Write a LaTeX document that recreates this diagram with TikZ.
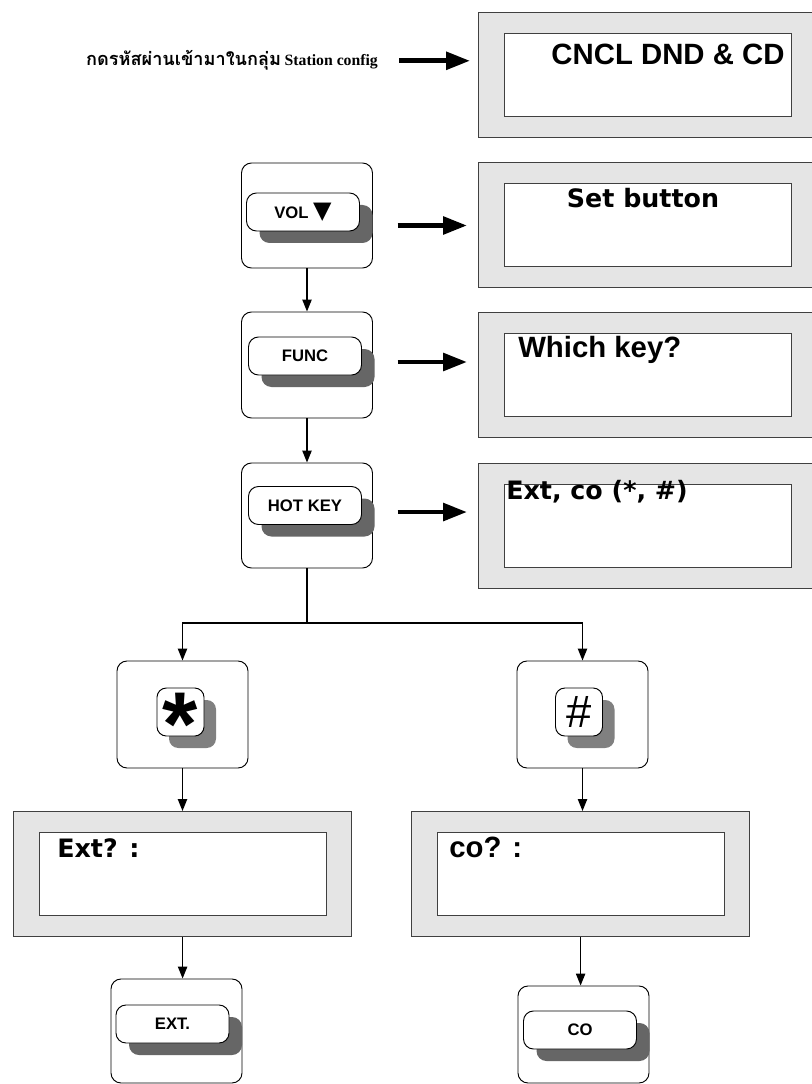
\documentclass[tikz,border=0pt]{standalone}
\usepackage{fontspec}
\setmainfont{Liberation Sans}
\newfontfamily\dejavu{DejaVu Sans}
\newfontfamily\thaifont[Script=Thai]{Loma}
\newfontfamily\timesb{Liberation Serif}
\usepackage{tikz}
\usetikzlibrary{positioning, arrows.meta, calc, shadows}

\begin{document}
\begin{tikzpicture}[x=0.75pt, y=-0.75pt,
  lcdframe/.style={draw=black!75, fill=gray!20, line width=0.9pt, minimum width=253.5pt, minimum height=93.75pt, inner sep=0pt, anchor=north west},
  lcdscreen/.style={draw=black!75, fill=white, line width=0.9pt, minimum width=215.25pt, minimum height=62.25pt, inner sep=0pt, anchor=north west},
  lcdsans/.style={font=\bfseries\fontsize{22}{22}\selectfont, inner sep=0pt},
  lcdwide/.style={font=\dejavu\bfseries\fontsize{19}{19}\selectfont, inner sep=0pt},
  panel/.style={draw=black, fill=white, rounded corners=7.5pt, line width=0.7pt, inner sep=0pt, minimum width=98.25pt},
  keycap/.style={draw=black, fill=white, rounded corners=7.5pt, line width=0.7pt, inner sep=0pt,
    minimum width=84.75pt, minimum height=28.5pt, font=\bfseries\fontsize{12.5}{12.5}\selectfont,
    drop shadow={shadow xshift=9.75pt, shadow yshift=-9pt, fill=black!60, opacity=1}},
  smallkey/.style={draw=black, fill=white, rounded corners=7pt, line width=0.7pt, inner sep=0pt,
    minimum width=35.25pt, minimum height=36pt,
    drop shadow={shadow xshift=9pt, shadow yshift=-9pt, fill=black!50, opacity=1}},
  flowarrow/.style={line width=1pt, -{Triangle[length=9pt, width=7pt]}},
  flowline/.style={line width=1pt},
  bigarrow/.style={line width=3.6pt, -{Triangle[length=18pt, width=13pt]}}
]
\useasboundingbox (0,0) rectangle (811,1084);

% Intro line
\node[inner sep=0pt, anchor=base] (intro) at (232,66)
  {{\thaifont\bfseries\fontsize{13.6}{14}\selectfont กดรหัสผ่านเข้ามาในกลุ่ม} {\timesb\bfseries\fontsize{11.8}{12}\selectfont Station config}};

% LCD displays
\foreach \name/\x/\y in {lcdA/478/12, lcdB/478/162, lcdC/478/312, lcdD/478/463, lcdE/13/811, lcdF/411/811} {
  \node[lcdframe] (\name) at (\x,\y) {};
  \node[lcdscreen] (\name-s) at ($(\name.north west)+(26,21)$) {};
}
\node[lcdsans, anchor=base] (cncl) at (668,65) {CNCL DND \& CD};
\node[lcdwide, anchor=base] (setbtn) at (643,208) {Set button};
\node[lcdsans, anchor=base west] (whichkey) at (518,357) {Which key?};
\node[lcdwide, anchor=base west] (extco) at (506,499) {Ext, co (*, \#)};
\node[lcdwide, anchor=base west] (extq) at (57,857) {Ext? :};
\node[lcdsans, anchor=base west] (coq) at (449,857) {co? :};

% Key panels
\foreach \name/\x/\y/\h in {volp/307/215.5/105, funcp/307/365/106, hotp/307/515.5/105,
  starp/182.5/714.5/107, hashp/582.5/714.5/107, extp/176.5/1031/104, cop/583.5/1034.5/97} {
  \node[panel, minimum height=\h*0.75pt] (\name) at (\x,\y) {};
}

% Keys
\node[keycap] (volk) at (303,212) {VOL {\dejavu\fontsize{18}{18}\selectfont ▼}};
\node[keycap] (funck) at (305,356) {FUNC};
\node[keycap] (hotk) at (305,505.5) {HOT KEY};
\node[keycap] (extk) at (172.5,1024) {EXT.};
\node[keycap] (cok) at (580,1030) {CO};
\node[smallkey] (stark) at (180.5,712)
  {\bfseries\fontsize{68}{68}\selectfont\raisebox{-0.48em}[0pt][0pt]{*}};
\node[smallkey] (hashk) at (579,712) {\fontsize{34}{34}\selectfont \#};

% Big arrows to the displays
\draw[bigarrow, shorten <=15.75pt, shorten >=6pt] (intro.east) -- (intro.east -| lcdA.west);
\draw[bigarrow, shorten <=18.4pt, shorten >=8.25pt] ([yshift=-7.5pt]volp.east) -- ([yshift=-7.5pt]volp.east -| lcdB.west);
\draw[bigarrow, shorten <=18.4pt, shorten >=8.25pt] ([yshift=2.25pt]funcp.east) -- ([yshift=2.25pt]funcp.east -| lcdC.west);
\draw[bigarrow, shorten <=18.4pt, shorten >=8.25pt] ([yshift=2.6pt]hotp.east) -- ([yshift=2.6pt]hotp.east -| lcdD.west);

% Flow
\coordinate (split) at (307,623);
\draw[flowarrow] (volp) -- (funcp);
\draw[flowarrow] (funcp) -- (hotp);
\draw[flowline] (hotp.south) -- (split);
\draw[flowarrow] (split) -| (starp.north);
\draw[flowarrow] (split) -| (hashp.north);
\draw[flowarrow] (starp.south) -- (starp.south |- lcdE.north);
\draw[flowarrow] (hashp.south) -- (hashp.south |- lcdF.north);
\draw[flowarrow] (lcdE.south) -- (lcdE.south |- extp.north);
\draw[flowarrow] (lcdF.south) -- (lcdF.south |- cop.north);

\end{tikzpicture}
\end{document}
